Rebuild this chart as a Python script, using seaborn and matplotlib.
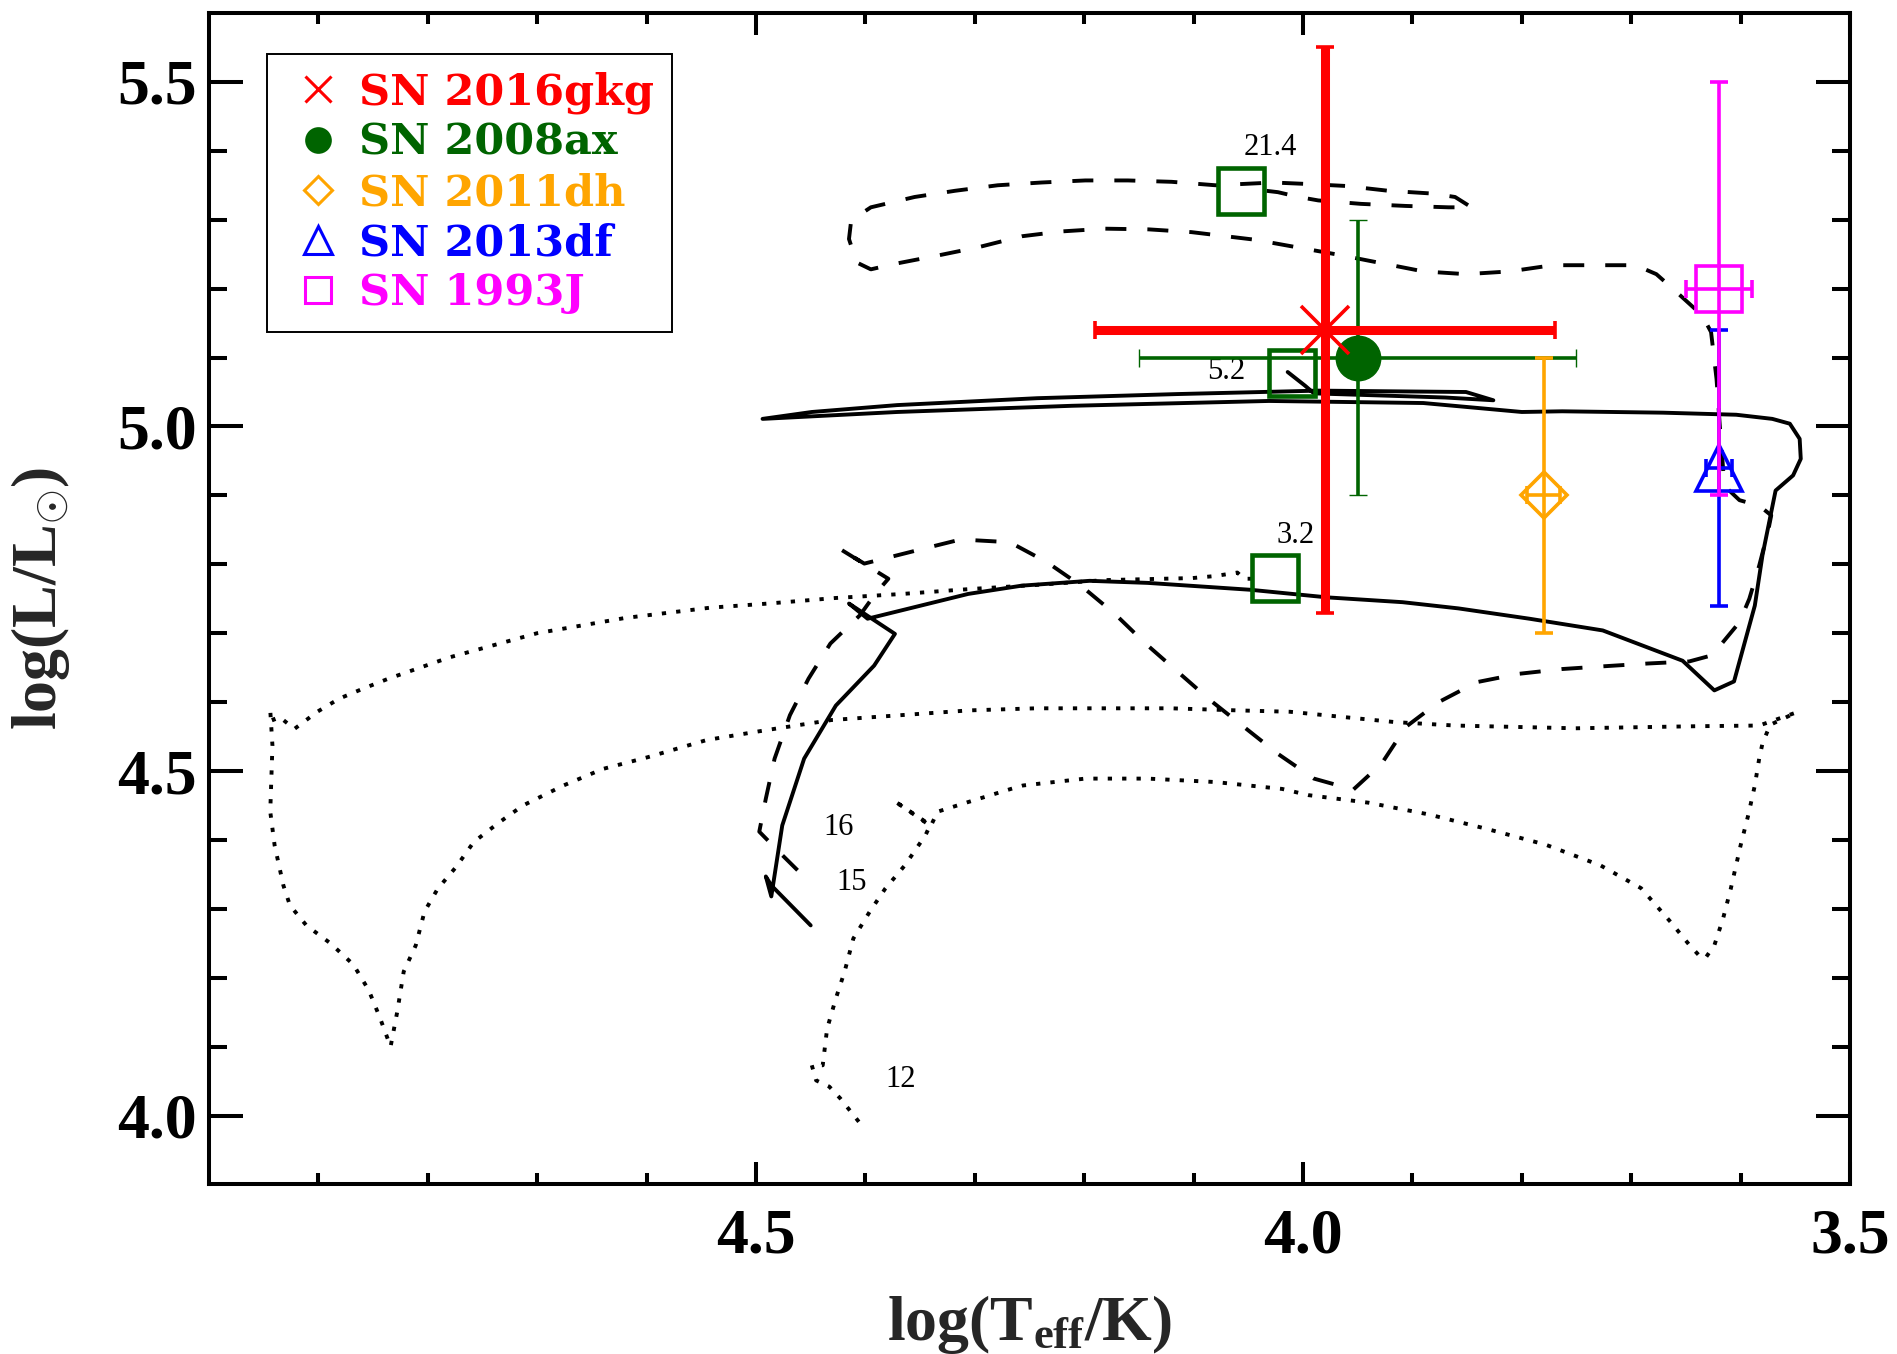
import matplotlib
matplotlib.use("Agg")
import matplotlib.pyplot as plt
from matplotlib.lines import Line2D
from matplotlib.ticker import FixedLocator, FormatStrFormatter
from matplotlib.font_manager import FontProperties
import pandas as pd
import seaborn as sns

# ---------------------------------------------------------------------------
# Progenitor estimates (log Teff, log L/Lsun with 1-sigma errors)
# ---------------------------------------------------------------------------
sn_names = ["SN 2016gkg", "SN 2008ax", "SN 2011dh", "SN 2013df", "SN 1993J"]
sn_logt = [3.98, 3.95, 3.78, 3.62, 3.62]
sn_logt_err = [0.21, 0.20, 0.015, 0.012, 0.03]
sn_logl = [5.14, 5.10, 4.90, 4.94, 5.20]
sn_logl_err = [0.41, 0.20, 0.20, 0.20, 0.30]

# ---------------------------------------------------------------------------
# Evolutionary tracks
# ---------------------------------------------------------------------------
solid_logt = [4.450, 4.486, 4.491, 4.486, 4.476, 4.456, 4.427, 4.392, 4.373, 4.415,
              4.398, 4.306, 4.257, 4.195, 4.142, 4.048, 3.978, 3.909, 3.858, 3.793,
              3.726, 3.653, 3.624, 3.606, 3.587, 3.580, 3.568, 3.552, 3.545, 3.546,
              3.555, 3.571, 3.604, 3.671, 3.763, 3.800, 3.890, 4.031, 4.211, 4.371,
              4.494, 4.449, 4.371, 4.243, 4.115, 3.986, 3.851, 3.826, 3.870, 3.990,
              3.998, 4.014]
solid_logl = [4.276, 4.334, 4.347, 4.318, 4.421, 4.518, 4.595, 4.653, 4.699, 4.743,
              4.721, 4.757, 4.769, 4.776, 4.773, 4.763, 4.752, 4.745, 4.736, 4.721,
              4.704, 4.660, 4.617, 4.630, 4.740, 4.813, 4.907, 4.929, 4.953, 4.982,
              5.004, 5.011, 5.017, 5.020, 5.022, 5.021, 5.034, 5.037, 5.030, 5.021,
              5.011, 5.021, 5.031, 5.041, 5.047, 5.052, 5.050, 5.038, 5.042, 5.048,
              5.059, 5.079]

dash_logt = [4.462, 4.476, 4.497, 4.491, 4.483, 4.469, 4.452, 4.432, 4.405, 4.391,
             4.379, 4.424, 4.401, 4.346, 4.313, 4.268, 4.234, 4.203, 4.172, 4.144,
             4.085, 4.023, 3.990, 3.954, 3.928, 3.906, 3.876, 3.841, 3.803, 3.763,
             3.725, 3.685, 3.647, 3.626, 3.601, 3.592, 3.583, 3.575, 3.572, 3.583,
             3.601, 3.615, 3.616, 3.619, 3.622, 3.627, 3.635, 3.662, 3.677, 3.696,
             3.772, 3.811, 3.851, 3.890, 3.967, 4.044, 4.102, 4.141, 4.181, 4.221,
             4.257, 4.297, 4.334, 4.373, 4.395, 4.408, 4.415, 4.413, 4.395, 4.355,
             4.318, 4.279, 4.239, 4.199, 4.160, 4.120, 4.080, 4.027, 3.998, 3.961,
             3.922, 3.882, 3.861, 3.846, 3.867, 3.906, 3.947, 3.986, 4.004, 4.023,
             4.050]
dash_logl = [4.356, 4.378, 4.412, 4.460, 4.518, 4.581, 4.634, 4.685, 4.726, 4.757,
             4.779, 4.823, 4.801, 4.823, 4.836, 4.832, 4.803, 4.769, 4.728, 4.685,
             4.603, 4.525, 4.489, 4.473, 4.511, 4.564, 4.600, 4.629, 4.641, 4.648,
             4.652, 4.656, 4.659, 4.668, 4.716, 4.750, 4.798, 4.847, 4.871, 4.885,
             4.893, 4.914, 4.939, 5.001, 5.069, 5.137, 5.161, 5.200, 5.221, 5.234,
             5.234, 5.225, 5.221, 5.225, 5.249, 5.271, 5.282, 5.286, 5.287, 5.283,
             5.276, 5.260, 5.248, 5.236, 5.228, 5.238, 5.272, 5.299, 5.318, 5.333,
             5.342, 5.350, 5.354, 5.357, 5.357, 5.355, 5.350, 5.354, 5.352, 5.349,
             5.342, 5.338, 5.333, 5.318, 5.318, 5.320, 5.323, 5.328, 5.333, 5.340,
             5.345]

dot_logt = [4.406, 4.423, 4.433, 4.445, 4.449, 4.439, 4.435, 4.427, 4.419, 4.411,
            4.396, 4.382, 4.364, 4.345, 4.341, 4.374, 4.340, 4.334, 4.306, 4.267,
            4.256, 4.199, 4.142, 4.080, 4.019, 3.995, 3.940, 3.885, 3.832, 3.778,
            3.728, 3.691, 3.664, 3.647, 3.636, 3.632, 3.624, 3.616, 3.609, 3.600,
            3.593, 3.587, 3.583, 3.580, 3.573, 3.549, 3.583, 3.641, 3.751, 3.861,
            3.916, 4.012, 4.060, 4.121, 4.183, 4.244, 4.305, 4.431, 4.492, 4.545,
            4.599, 4.640, 4.676, 4.713, 4.736, 4.758, 4.774, 4.791, 4.803, 4.811,
            4.822, 4.828, 4.834, 4.844, 4.854, 4.868, 4.889, 4.911, 4.926, 4.932,
            4.940, 4.944, 4.943, 4.942, 4.944, 4.940, 4.932, 4.922, 4.901, 4.881,
            4.860, 4.836, 4.780, 4.700, 4.620, 4.542, 4.489, 4.428, 4.366, 4.305,
            4.244, 4.182, 4.101, 4.080, 4.060, 4.054, 4.039]
dot_logl = [3.991, 4.025, 4.042, 4.051, 4.073, 4.073, 4.126, 4.170, 4.209, 4.257,
            4.296, 4.329, 4.363, 4.407, 4.421, 4.457, 4.421, 4.441, 4.455, 4.474,
            4.479, 4.489, 4.489, 4.484, 4.474, 4.465, 4.454, 4.437, 4.416, 4.393,
            4.363, 4.330, 4.281, 4.248, 4.229, 4.229, 4.247, 4.286, 4.329, 4.392,
            4.436, 4.479, 4.518, 4.540, 4.567, 4.585, 4.566, 4.565, 4.562, 4.566,
            4.571, 4.586, 4.588, 4.591, 4.591, 4.591, 4.588, 4.574, 4.559, 4.545,
            4.520, 4.503, 4.479, 4.450, 4.424, 4.397, 4.361, 4.329, 4.296, 4.247,
            4.209, 4.150, 4.100, 4.143, 4.182, 4.219, 4.250, 4.276, 4.305, 4.334,
            4.392, 4.441, 4.489, 4.537, 4.588, 4.571, 4.574, 4.561, 4.586, 4.605,
            4.619, 4.634, 4.665, 4.700, 4.722, 4.737, 4.743, 4.751, 4.757, 4.764,
            4.770, 4.777, 4.780, 4.783, 4.788, 4.779, 4.779]

# Final model positions and their labels
end_logt = [4.057, 4.010, 4.026]
end_logl = [5.342, 5.077, 4.780]
end_labels = ["21.4", "5.2", "3.2"]

# Initial-mass labels of the tracks
mass_labels = ["16", "15", "12"]

# ---------------------------------------------------------------------------
# Styling
# ---------------------------------------------------------------------------
sns.set_theme(style="ticks")
plt.rcParams.update({
    "font.family": ["Liberation Serif", "DejaVu Serif"],
    "font.weight": "bold",
    "mathtext.fontset": "custom",
    "mathtext.rm": "Liberation Serif:bold",
    "mathtext.it": "Liberation Serif:italic:bold",
    "mathtext.bf": "Liberation Serif:bold",
    "axes.linewidth": 2.9,
    "axes.edgecolor": "black",
    "xtick.color": "black",
    "ytick.color": "black",
    "axes.facecolor": "white",
    "figure.facecolor": "white",
})

sn_colors = ["#ff0000", "#006400", "#ffa500", "#0000ff", "#ff00ff"]
sn_markers = ["x", "o", "D", "^", "s"]
sn_ms = [34, 32, 23.5, 33, 33.5]
sn_filled = [False, True, False, False, False]
sn_elw = [6.5, 2.6, 2.6, 2.6, 2.6]
sn_zorder = [10, 5, 6, 7, 8]

fig = plt.figure(figsize=(18.97, 13.54), dpi=100)
ax = fig.add_axes([0.11017, 0.12519, 0.86505, 0.86522])


def draw_track(logt, logl, dashes=None):
    frame = pd.DataFrame({"logt": logt, "logl": logl})
    sns.lineplot(data=frame, x="logt", y="logl", sort=False, estimator=None,
                 color="black", linewidth=2.8, ax=ax, zorder=2)
    line = ax.get_lines()[-1]
    if dashes is not None:
        line.set_dashes(dashes)
        line.set_dash_capstyle("butt")


draw_track(solid_logt, solid_logl)
draw_track(dash_logt, dash_logl, dashes=[5.4, 5.4])
draw_track(dot_logt, dot_logl, dashes=[1.1, 2.6])

# starting-mass labels next to the zero-age ends of the tracks
mass_label_xy = [(4.4245, 4.4175), (4.4123, 4.3377), (4.3676, 4.0526)]
for txt, (lx, ly) in zip(mass_labels, mass_label_xy):
    ax.text(lx, ly, txt, fontsize=22, fontweight="normal", ha="center",
            va="center", color="black", zorder=3)

# final positions of the models
ax.plot(end_logt, end_logl, ls="none", marker="s", ms=32.5, mfc="none",
        mec="#006400", mew=3.3, zorder=3)
end_offsets = [(21.6, 31.0), (-47.5, 1.6), (15.0, 31.0)]
for txt, x, y, off in zip(end_labels, end_logt, end_logl, end_offsets):
    ax.annotate(txt, (x, y), xytext=off, textcoords="offset points",
                fontsize=22, fontweight="normal", ha="center", va="center",
                color="black", zorder=3)

# progenitor measurements
for i in range(len(sn_names)):
    c = sn_colors[i]
    ax.errorbar(sn_logt[i], sn_logl[i], xerr=sn_logt_err[i], yerr=sn_logl_err[i],
                fmt=sn_markers[i], color=c, ecolor=c, ms=sn_ms[i],
                mfc=c if sn_filled[i] else "none", mec=c,
                mew=1.0 if sn_filled[i] else 2.6,
                elinewidth=sn_elw[i], capsize=6.8, capthick=sn_elw[i] if i == 0 else 2.9,
                zorder=sn_zorder[i])

# legend
legend_ms = [19, 17, 14, 20, 19]
handles = [Line2D([], [], ls="none", marker=m, color=c, ms=s,
                  mfc=c if f else "none", mec=c, mew=2.2)
           for m, c, s, f in zip(sn_markers, sn_colors, legend_ms, sn_filled)]
leg = ax.legend(handles, sn_names, loc="upper left",
                bbox_to_anchor=(0.0352, 0.965), bbox_transform=ax.transAxes,
                borderaxespad=0.0, frameon=True, fancybox=False,
                edgecolor="black", framealpha=1.0,
                prop=FontProperties(family="DejaVu Serif", weight="bold", size=31),
                labelcolor=sn_colors, handlelength=1.6, handletextpad=0.15,
                borderpad=0.4, labelspacing=0.19)
leg.get_frame().set_linewidth(1.4)
leg.set_zorder(20)

# axes
ax.set_xlim(5.0, 3.5)
ax.set_ylim(3.9, 5.6)
ax.xaxis.set_major_locator(FixedLocator([4.5, 4.0, 3.5]))
ax.xaxis.set_minor_locator(FixedLocator([4.9, 4.8, 4.7, 4.6, 4.4, 4.3, 4.2, 4.1,
                                         3.9, 3.8, 3.7, 3.6]))
ax.yaxis.set_major_locator(FixedLocator([4.0, 4.5, 5.0, 5.5]))
ax.yaxis.set_minor_locator(FixedLocator([4.1, 4.2, 4.3, 4.4, 4.6, 4.7, 4.8, 4.9,
                                         5.1, 5.2, 5.3, 5.4]))
ax.xaxis.set_major_formatter(FormatStrFormatter("%.1f"))
ax.yaxis.set_major_formatter(FormatStrFormatter("%.1f"))

ax.tick_params(axis="both", which="both", direction="in", top=True, right=True,
               width=2.9, labelsize=46)
ax.tick_params(axis="x", which="major", length=15.8, pad=17)
ax.tick_params(axis="x", which="minor", length=7.9)
ax.tick_params(axis="y", which="major", length=24.5, pad=9)
ax.tick_params(axis="y", which="minor", length=12.7)
for spine in ax.spines.values():
    spine.set_linewidth(2.9)
    spine.set_color("black")

ax.set_xlabel(r"log(T$_{\mathbf{eff}}$/K)", fontsize=46, fontweight="bold")
ax.set_ylabel(r"log(L/L$_{\odot}$)", fontsize=46, fontweight="bold")
ax.xaxis.set_label_coords(0.5, -0.0926)
ax.yaxis.set_label_coords(-0.0835, 0.5)

fig.savefig("out.png", dpi=100)
